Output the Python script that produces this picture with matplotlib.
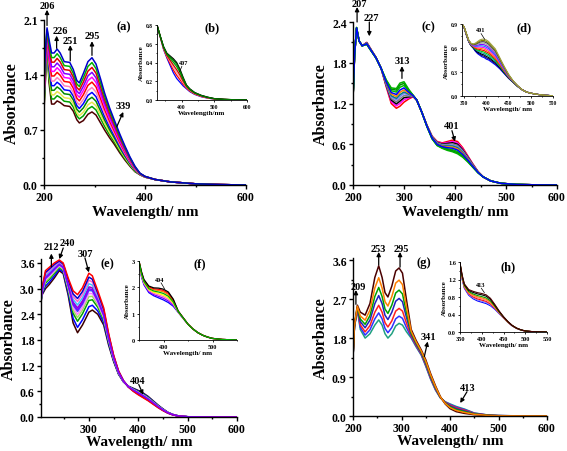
import numpy as np
import matplotlib
matplotlib.use('Agg')
import matplotlib.pyplot as plt
from matplotlib.ticker import AutoMinorLocator

plt.rcParams['font.family'] = ['Liberation Serif', 'DejaVu Serif']
plt.rcParams['font.weight'] = 'bold'

# ---------------- data ----------------
# panel (a): lowest and highest spectra, plus where each trace sits between them
wl_a = [200, 203, 206, 210, 215, 220, 226, 232, 240, 251, 258, 265, 270, 278, 287, 295,
        303, 312, 320, 330, 339, 350, 360, 370, 380, 390, 400, 420, 450, 500, 550, 600]
low_a = [0.95, 1.35, 1.75, 1.3, 1.03, 1.03, 1.07, 1.05, 1.01, 1.0, 0.94, 0.83, 0.79, 0.82, 0.9, 0.93,
         0.89, 0.79, 0.7, 0.6, 0.52, 0.41, 0.32, 0.24, 0.17, 0.13, 0.1, 0.07, 0.04, 0.015, 0.005, 0.0]
high_a = [1.3, 1.75, 2.0, 1.85, 1.68, 1.68, 1.73, 1.68, 1.57, 1.56, 1.47, 1.33, 1.3, 1.42, 1.57, 1.62,
          1.54, 1.35, 1.17, 0.98, 0.83, 0.65, 0.5, 0.36, 0.24, 0.15, 0.11, 0.07, 0.04, 0.015, 0.005, 0.0]
frac_a = [0, 0.1, 0.18, 0.27, 0.36, 0.45, 0.55, 0.64, 0.73, 0.82, 0.91, 1.0]
col_a = ['#4d0000', '#00a000', '#e6e64c', '#008800', '#0000ff', '#ff80c0',
         '#ff0000', '#ff00ff', '#8000ff', '#e00000', '#00b000', '#0000cc']

# inset (b)
wl_b = [325, 335, 345, 355, 365, 375, 385, 395, 405, 415, 425, 440, 460, 480, 500, 530, 560, 600]
low_b = [0.8, 0.67, 0.54, 0.45, 0.37, 0.29, 0.23, 0.19, 0.15, 0.12, 0.09, 0.06, 0.035, 0.02, 0.01, 0.005, 0.002, 0.0]
high_b = [0.8, 0.68, 0.57, 0.5, 0.47, 0.44, 0.4, 0.33, 0.24, 0.16, 0.12, 0.08, 0.05, 0.03, 0.015, 0.007, 0.003, 0.0]
frac_b = [0, 0.2, 0.38, 0.55, 0.75, 1.0, 0.9]
col_b = ['#0000ff', '#ff0000', '#ff9999', '#cc0000', '#00a000', '#000000', '#007700']

# panel (c)
wl_c = [200, 203, 207, 212, 218, 227, 235, 245, 255, 265, 275, 285, 292, 300, 310, 318, 325, 335,
        345, 355, 365, 375, 385, 395, 405, 415, 425, 435, 445, 455, 470, 490, 520, 560, 600]
low_c = [1.27, 1.9, 2.3, 2.12, 2.05, 2.1, 2.0, 1.88, 1.72, 1.45, 1.2, 1.13, 1.16, 1.22, 1.27, 1.3, 1.25, 1.07,
         0.88, 0.72, 0.64, 0.62, 0.64, 0.66, 0.64, 0.55, 0.43, 0.31, 0.2, 0.12, 0.06, 0.025, 0.008, 0.002, 0]
high_c = [1.27, 1.9, 2.32, 2.12, 2.05, 2.07, 1.98, 1.87, 1.72, 1.55, 1.43, 1.42, 1.5, 1.52, 1.4, 1.32, 1.25, 1.07,
          0.86, 0.68, 0.58, 0.54, 0.51, 0.49, 0.46, 0.41, 0.34, 0.26, 0.18, 0.12, 0.06, 0.025, 0.008, 0.002, 0]
frac_c = [0, 0.12, 0.22, 0.32, 0.42, 0.5, 0.6, 0.82, 0.92, 1.0, 0.7]
col_c = ['#ff0000', '#ff00ff', '#000000', '#808080', '#8080ff', '#008080',
         '#ff8000', '#00c000', '#009000', '#00b000', '#0000ff']

# inset (d)
wl_d = [345, 350, 355, 360, 365, 370, 375, 380, 385, 390, 395, 400, 405, 410,
        415, 420, 430, 440, 450, 460, 470, 480, 490, 500, 515, 530, 550]
low_d = [0.9, 0.85, 0.76, 0.68, 0.63, 0.6, 0.56, 0.53, 0.51, 0.49, 0.48, 0.46, 0.45, 0.43,
         0.41, 0.39, 0.34, 0.28, 0.22, 0.17, 0.12, 0.08, 0.05, 0.035, 0.02, 0.01, 0.003]
high_d = [0.9, 0.86, 0.78, 0.7, 0.66, 0.65, 0.66, 0.68, 0.7, 0.71, 0.71, 0.7, 0.68, 0.65,
          0.62, 0.59, 0.48, 0.37, 0.27, 0.19, 0.13, 0.08, 0.05, 0.035, 0.02, 0.01, 0.003]
frac_d = [0, 0.07, 0.14, 0.22, 0.3, 0.38, 0.46, 0.54, 0.62, 0.7, 0.78, 0.86, 0.93, 1.0]
col_d = ['#0000ff', '#000080', '#000000', '#00a0a0', '#00c000', '#ff0000', '#ff8000',
         '#ff00ff', '#0080ff', '#8000ff', '#a0a0a0', '#404040', '#808000', '#a0a040']

# panel (e)
wl_e = [200, 205, 212, 220, 230, 240, 248, 258, 268, 277, 287, 300, 307, 318, 330, 340, 350,
        360, 370, 380, 390, 400, 410, 420, 430, 440, 450, 460, 470, 480, 500, 550, 600]
low_e = [2.4, 2.85, 3.0, 3.1, 3.25, 3.42, 3.35, 2.85, 2.2, 1.97, 2.15, 2.45, 2.5, 2.4, 2.15, 1.68, 1.3,
         1.0, 0.82, 0.72, 0.67, 0.62, 0.56, 0.48, 0.38, 0.28, 0.19, 0.11, 0.06, 0.03, 0.006, 0.001, 0]
high_e = [2.5, 3.0, 3.42, 3.5, 3.6, 3.67, 3.6, 3.25, 2.95, 2.86, 3.02, 3.36, 3.3, 2.95, 2.55, 1.95, 1.45,
          1.08, 0.85, 0.7, 0.6, 0.52, 0.45, 0.38, 0.3, 0.22, 0.15, 0.09, 0.05, 0.025, 0.005, 0.001, 0]
frac_e = [0, 0.14, 0.3, 0.4, 0.48, 0.56, 0.65, 0.73, 0.82, 0.9, 1.0, 0.6]
col_e = ['#3d0000', '#0000ff', '#00a000', '#a0e060', '#ff80ff', '#4040ff',
         '#9900cc', '#40c0ff', '#ff66cc', '#0000cc', '#ff0000', '#8000ff']

# inset (f)
wl_f = [350, 355, 360, 370, 380, 390, 400, 410, 420, 430, 440, 450, 460, 470, 480, 490, 500, 520, 550]
low_f = [2.95, 2.4, 2.1, 1.8, 1.68, 1.6, 1.52, 1.42, 1.28, 1.05, 0.82, 0.6, 0.42, 0.28, 0.18, 0.11, 0.06, 0.02, 0.0]
high_f = [3.0, 2.6, 2.3, 2.05, 1.98, 1.97, 1.93, 1.82, 1.55, 1.1, 0.85, 0.6, 0.42, 0.28, 0.18, 0.11, 0.06, 0.02, 0.0]
frac_f = [0, 0.15, 0.3, 0.45, 0.75, 0.88, 1.0, 0.6]
col_f = ['#0000ff', '#8000ff', '#ff66cc', '#ffff00', '#ff8000', '#ff0000', '#000000', '#00b000']

# panel (g)
wl_g = [200, 203, 209, 215, 225, 235, 245, 253, 260, 266, 272, 280, 288, 295, 302, 310,
        320, 330, 341, 350, 360, 370, 380, 390, 400, 413, 430, 450, 480, 500, 550, 600]
low_g = [1.35, 2.05, 2.45, 2.0, 1.8, 1.9, 2.1, 2.22, 2.1, 1.9, 1.8, 1.9, 2.08, 2.14, 2.1, 1.95,
         1.8, 1.6, 1.4, 1.15, 0.85, 0.6, 0.42, 0.33, 0.28, 0.22, 0.16, 0.07, 0.02, 0.01, 0.002, 0]
high_g = [1.35, 2.1, 2.56, 2.4, 2.33, 2.6, 3.2, 3.47, 3.2, 2.85, 2.75, 3.0, 3.35, 3.42, 3.3, 2.7,
          2.0, 1.75, 1.52, 1.3, 0.98, 0.7, 0.45, 0.28, 0.17, 0.1, 0.06, 0.03, 0.01, 0.005, 0.001, 0]
frac_g = [0, 0.13, 0.27, 0.45, 0.6, 1.0, 0.78]
col_g = ['#20a080', '#3030ff', '#ff2020', '#2020c0', '#00a000', '#4a0000', '#ff8000']

# inset (h)
wl_h = [350, 355, 360, 370, 380, 390, 400, 410, 420, 430, 440, 450, 460, 470, 480, 490, 500, 520, 550]
low_h = [1.55, 1.2, 1.0, 0.84, 0.76, 0.71, 0.68, 0.65, 0.6, 0.52, 0.42, 0.32, 0.22, 0.14, 0.08, 0.045, 0.02, 0.005, 0]
high_h = [1.58, 1.3, 1.1, 0.97, 0.93, 0.9, 0.88, 0.85, 0.77, 0.63, 0.48, 0.35, 0.24, 0.15, 0.09, 0.05, 0.025, 0.005, 0]
frac_h = [0, 0.12, 0.25, 0.38, 0.5, 0.65, 0.85, 1.0]
col_h = ['#0000ff', '#8080ff', '#ff0000', '#ff8080', '#ff8000', '#00a000', '#000000', '#4a0000']

W, H = 567, 452


def box(l, t, r, b):
    # pixel box -> figure fraction
    return [l / W, 1 - b / H, (r - l) / W, (b - t) / H]


def style(ax, size, lw=1.0, ticklen=3.0):
    for s in ['top', 'right']:
        ax.spines[s].set_visible(False)
    for s in ['left', 'bottom']:
        ax.spines[s].set_linewidth(lw)
    ax.xaxis.set_minor_locator(AutoMinorLocator(2))
    ax.yaxis.set_minor_locator(AutoMinorLocator(2))
    ax.tick_params(which='both', direction='out', labelsize=size, width=lw, length=ticklen, pad=1.5)
    ax.tick_params(which='minor', length=ticklen * 0.6)


def family(ax, wl, low, high, fracs, colors, lw):
    low = np.array(low)
    high = np.array(high)
    for f, c in zip(fracs, colors):
        ax.plot(wl, low + f * (high - low), color=c, lw=lw)


def arrow(ax, tail, head, lw=0.9, ms=6):
    ax.annotate('', xy=head, xytext=tail, annotation_clip=False,
                arrowprops=dict(arrowstyle='-|>', color='k', lw=lw, mutation_scale=ms,
                                shrinkA=0, shrinkB=0))


def label(ax, x, y, s, size=7.5):
    ax.text(x, y, s, ha='center', va='center', fontsize=size, fontweight='bold', clip_on=False)


def main_labels(ax, pad=1):
    ax.set_xlabel('Wavelength/ nm', fontsize=11, fontweight='bold', labelpad=pad)
    ax.set_ylabel('Absorbance', fontsize=11.5, fontweight='bold', labelpad=2)


def inset_labels(ax, xl):
    ax.set_xlabel(xl, fontsize=5, fontweight='bold', labelpad=0.5)
    ax.set_ylabel('Absorbance', fontsize=5, fontweight='bold', labelpad=1)


fig = plt.figure(figsize=(5.67, 4.52), dpi=100)

# ---------- (a) ----------
ax = fig.add_axes(box(44, 21, 246, 186))
family(ax, wl_a, low_a, high_a, frac_a, col_a, 1.1)
ax.set_xlim(200, 600)
ax.set_ylim(0, 2.1)
ax.set_xticks([200, 400, 600])
ax.set_yticks([0.0, 0.7, 1.4, 2.1])
ax.set_yticklabels(['0.0', '0.7', '1.4', '2.1'])
style(ax, 8.5)
main_labels(ax)
label(ax, 206, 2.29, '206')
arrow(ax, (206, 2.03), (206, 2.23))
label(ax, 233, 1.97, '226')
arrow(ax, (225, 1.74), (225, 1.9))
label(ax, 252, 1.84, '251')
arrow(ax, (252, 1.58), (252, 1.78))
label(ax, 295, 1.9, '295')
arrow(ax, (295, 1.65), (295, 1.83))
label(ax, 357, 1.01, '339')
arrow(ax, (344, 0.74), (357, 0.93))
label(ax, 357, 2.02, '(a)', 9)

axb = fig.add_axes(box(157, 26, 247, 101))
family(axb, wl_b, low_b, high_b, frac_b, col_b, 0.9)
axb.set_xlim(325, 600)
axb.set_ylim(0, 0.8)
axb.set_xticks([400, 500, 600])
axb.set_yticks([0.0, 0.2, 0.4, 0.6, 0.8])
axb.set_yticklabels(['0.0', '0.2', '0.4', '0.6', '0.8'])
style(axb, 4, 0.6, 1.5)
inset_labels(axb, 'Wavelength/nm')
label(axb, 405, 0.4, '407', 4.5)
axb.plot([401, 394], [0.36, 0.3], color='k', lw=0.5)
fig.text(212 / W, 1 - 28 / H, '(b)', ha='center', va='center', fontsize=9, fontweight='bold')

# ---------- (c) ----------
ax = fig.add_axes(box(353, 23, 557, 186))
family(ax, wl_c, low_c, high_c, frac_c, col_c, 1.1)
ax.set_xlim(200, 600)
ax.set_ylim(0, 2.4)
ax.set_xticks([200, 300, 400, 500, 600])
ax.set_yticks([0.0, 0.6, 1.2, 1.8, 2.4])
ax.set_yticklabels(['0.0', '0.6', '1.2', '1.8', '2.4'])
style(ax, 8.5)
main_labels(ax)
label(ax, 213, 2.67, '207')
arrow(ax, (208, 2.4), (208, 2.62))
label(ax, 236, 2.47, '227')
arrow(ax, (232, 2.4), (232, 2.19))
label(ax, 296, 1.84, '313')
arrow(ax, (296, 1.57), (296, 1.75))
label(ax, 394, 0.88, '401')
arrow(ax, (394, 0.8), (400, 0.64))
label(ax, 348, 2.34, '(c)', 9)

axd = fig.add_axes(box(462, 25, 553, 97))
family(axd, wl_d, low_d, high_d, frac_d, col_d, 0.8)
axd.set_xlim(345, 550)
axd.set_ylim(0, 0.9)
axd.set_xticks([350, 400, 450, 500, 550])
axd.set_yticks([0.0, 0.3, 0.6, 0.9])
axd.set_yticklabels(['0.0', '0.3', '0.6', '0.9'])
style(axd, 4, 0.6, 1.5)
inset_labels(axd, 'Wavelength/ nm')
label(axd, 386, 0.83, '401', 4.5)
axd.plot([388, 396], [0.78, 0.71], color='k', lw=0.5)
fig.text(524 / W, 1 - 28 / H, '(d)', ha='center', va='center', fontsize=9, fontweight='bold')

# ---------- (e) ----------
ax = fig.add_axes(box(41, 259.7, 237, 418))
family(ax, wl_e, low_e, high_e, frac_e, col_e, 1.1)
ax.set_xlim(203, 600)
ax.set_ylim(0, 3.7)
ax.set_xticks([300, 400, 500, 600])
ax.set_yticks([0.0, 0.6, 1.2, 1.8, 2.4, 3.0, 3.6])
ax.set_yticklabels(['0.0', '0.6', '1.2', '1.8', '2.4', '3.0', '3.6'])
style(ax, 8.5)
main_labels(ax, 0)
label(ax, 225, 3.98, '212')
arrow(ax, (224, 3.51), (224, 3.82))
label(ax, 256, 4.07, '240')
arrow(ax, (248, 3.95), (240, 3.69))
label(ax, 293, 3.83, '307')
arrow(ax, (292, 3.72), (300, 3.38))
label(ax, 399, 0.86, '404')
arrow(ax, (401, 0.76), (410, 0.52))
label(ax, 337, 3.6, '(e)', 9)

axf = fig.add_axes(box(139, 262, 237, 341))
family(axf, wl_f, low_f, high_f, frac_f, col_f, 0.9)
axf.set_xlim(350, 550)
axf.set_ylim(0, 3)
axf.set_xticks([400, 500])
axf.set_yticks([0, 1, 2, 3])
style(axf, 4.5, 0.6, 1.5)
inset_labels(axf, 'Wavelength/ nm')
label(axf, 392, 2.3, '404', 4.5)
axf.plot([395, 402], [2.17, 1.95], color='k', lw=0.5)
fig.text(200 / W, 1 - 264 / H, '(f)', ha='center', va='center', fontsize=9, fontweight='bold')

# ---------- (g) ----------
ax = fig.add_axes(box(353, 259, 547, 417))
family(ax, wl_g, low_g, high_g, frac_g, col_g, 1.1)
ax.set_xlim(200, 600)
ax.set_ylim(0, 3.65)
ax.set_xticks([200, 300, 400, 500, 600])
ax.set_yticks([0.0, 0.9, 1.8, 2.7, 3.6])
ax.set_yticklabels(['0.0', '0.9', '1.8', '2.7', '3.6'])
style(ax, 8.5)
main_labels(ax, 0)
label(ax, 210, 3.0, '209')
arrow(ax, (206, 2.58), (206, 2.91))
label(ax, 253, 3.88, '253')
arrow(ax, (253, 3.49), (253, 3.79))
label(ax, 300, 3.88, '295')
arrow(ax, (297, 3.44), (297, 3.79))
label(ax, 355, 1.83, '341')
arrow(ax, (347, 1.37), (354, 1.72))
label(ax, 437, 0.65, '413')
arrow(ax, (435, 0.56), (421, 0.3))
label(ax, 347, 3.55, '(g)', 9)

axh = fig.add_axes(box(460, 263, 547, 333))
family(axh, wl_h, low_h, high_h, frac_h, col_h, 0.8)
axh.set_xlim(350, 550)
axh.set_ylim(0, 1.6)
axh.set_xticks([350, 400, 450, 500, 550])
axh.set_yticks([0.0, 0.4, 0.8, 1.2, 1.6])
axh.set_yticklabels(['0.0', '0.4', '0.8', '1.2', '1.6'])
style(axh, 4.5, 0.6, 1.5)
inset_labels(axh, 'Wavelength/ nm')
label(axh, 397, 1.08, '413', 4.5)
axh.plot([399, 406], [1.0, 0.9], color='k', lw=0.5)
fig.text(508 / W, 1 - 267 / H, '(h)', ha='center', va='center', fontsize=9, fontweight='bold')

fig.savefig('out.png', dpi=100)
